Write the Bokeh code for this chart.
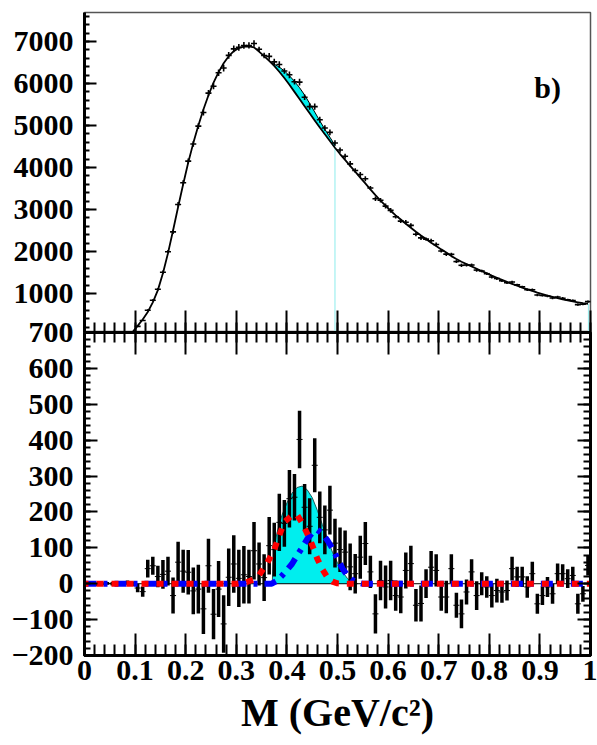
from bokeh.plotting import figure
from bokeh.layouts import column
from bokeh.models import (Range1d, FixedTicker, LinearAxis, Label,
                          CustomJSTickFormatter, ColumnDataSource)
from bokeh.embed import file_html
from bokeh.resources import INLINE

FONT = "Liberation Serif"

# ---------------- data ----------------
mass = [round(0.005 + 0.01 * i, 3) for i in range(100)]

resid = [0, 0, -2, 0, 1, 0, 0, 2, 3, 0,
         -12, -22, 42, 50, 20, 26, 35, -33, 60, 35,
         32, -20, -15, -70, 50, -85, -15, -112, 18, 55,
         15, 25, 20, 92, 55, 17, 106, 95, 171, 168,
         237, 241, 402, 213, 160, 330, 185, 150, 205, 113,
         95, 88, 47, 28, 74, 112, 33, -84, 9, -9,
         9, -33, -37, 37, 56, -60, -55, 0, 46, 37,
         -37, -37, 42, -60, -84, -23, 33, -33, 0, -9,
         -33, -19, -23, -19, 42, 19, 19, -9, 28, -56,
         -33, -9, -28, 28, 28, 14, 23, -56, -28, 51]

resid_err = [3, 3, 4, 4, 4, 5, 5, 5, 6, 6,
             12, 14, 25, 25, 30, 40, 40, 50, 57, 60,
             62, 65, 68, 70, 75, 70, 78, 80, 80, 80,
             80, 80, 75, 80, 60, 65, 80, 75, 80, 65,
             80, 65, 80, 65, 78, 75, 72, 68, 68, 68,
             62, 60, 65, 55, 60, 60, 45, 55, 55, 60,
             55, 42, 45, 50, 50, 45, 50, 40, 45, 45,
             38, 45, 40, 35, 40, 35, 35, 40, 32, 30,
             33, 33, 30, 28, 33, 28, 28, 30, 33, 28,
             26, 28, 28, 28, 26, 26, 24, 28, 22, 28]

top_mass = mass[10:]
top_err = resid_err[10:]
top_counts = [218, 358, 602, 840, 1100, 1506, 1995, 2467, 3120, 3635,
              4152, 4560, 4985, 5310, 5770, 5935, 6255, 6368, 6668, 6825,
              6860, 6905, 6905, 6952, 6815, 6667, 6646, 6515, 6451, 6298,
              6207, 6041, 6032, 5673, 5450, 5450, 5135, 4940, 4835, 4583,
              4415, 4268, 4087, 3928, 3834, 3732, 3513, 3256, 3219, 3081,
              2979, 2827, 2723, 2697, 2621, 2410, 2325, 2295, 2256, 2167,
              2013, 1938, 1932, 1760, 1671, 1677, 1678, 1557, 1535, 1471,
              1392, 1356, 1302, 1256, 1272, 1204, 1159, 1091, 1088, 964,
              952, 941, 892, 918, 888, 849, 833, 734, 742, 806]

bkg_x = [0.095] + top_mass
bkg_y = [80,
         230, 380, 560, 790, 1080, 1480, 1960, 2500, 3060, 3600,
         4120, 4580, 5000, 5380, 5720, 6020, 6270, 6480, 6650, 6770,
         6845, 6880, 6885, 6860, 6760, 6650, 6540, 6420, 6280, 6130,
         5970, 5800, 5630, 5460, 5290, 5120, 4950, 4790, 4630, 4470,
         4320, 4180, 4040, 3900, 3760, 3620, 3480, 3340, 3210, 3090,
         2970, 2860, 2760, 2660, 2565, 2470, 2380, 2295, 2210, 2130,
         2050, 1975, 1890, 1820, 1755, 1700, 1645, 1590, 1535, 1480,
         1425, 1375, 1325, 1275, 1230, 1185, 1140, 1100, 1060, 1020,
         985, 950, 920, 890, 860, 835, 810, 790, 770, 755]

sig_top_x = [0.365, 0.375, 0.385, 0.395, 0.405, 0.415, 0.425,
             0.435, 0.445, 0.455, 0.465, 0.475, 0.485, 0.495]
sig_top_total = [6540, 6460, 6390, 6300, 6185, 6050, 5900,
                 5725, 5525, 5320, 5110, 4910, 4720, 4530]

sig_x = [0.371, 0.373, 0.375, 0.38, 0.39, 0.40, 0.41, 0.42, 0.43, 0.44,
         0.45, 0.46, 0.47, 0.48, 0.49, 0.50, 0.51, 0.52, 0.53, 0.54]
sig_y = [0, 70, 90, 140, 190, 225, 252, 268, 272, 262,
         240, 205, 165, 125, 88, 58, 33, 14, 4, 0]

red_x = [0.0, 0.30, 0.32, 0.335, 0.345, 0.36, 0.375, 0.385, 0.395, 0.41, 0.42,
         0.43, 0.44, 0.45, 0.46, 0.47, 0.48, 0.49, 0.50, 0.51, 1.0]
red_y = [0, 0, 4, 12, 24, 55, 95, 135, 172, 190, 192,
         170, 140, 108, 70, 40, 18, 6, 1, 0, 0]

blue_x = [0.0, 0.37, 0.38, 0.39, 0.40, 0.41, 0.42, 0.43, 0.44, 0.45, 0.46,
          0.47, 0.48, 0.49, 0.50, 0.51, 0.52, 0.53, 0.54, 0.55, 1.0]
blue_y = [0, 0, 8, 22, 38, 55, 78, 100, 124, 142, 150,
          140, 121, 98, 70, 42, 22, 10, 3, 0, 0]

x_ticks = [0, 0.1, 0.2, 0.3, 0.4, 0.5, 0.6, 0.7, 0.8, 0.9, 1.0]
x_minor = [round(0.02 * i, 2) for i in range(51)]
top_ticks = [1000, 2000, 3000, 4000, 5000, 6000, 7000]
top_minor = list(range(200, 7800, 200))
bot_ticks = [-200, -100, 0, 100, 200, 300, 400, 500, 600, 700]
bot_minor = list(range(-200, 720, 20))

TOP_YMIN, TOP_YMAX = 71, 7690
BOT_YMIN, BOT_YMAX = -200, 700

CYAN = "#00eeee"
OVERLAP = 18

def style_axis(ax, size="30px"):
    ax.axis_line_width = 3
    ax.axis_line_color = "black"
    ax.major_tick_line_color = "black"
    ax.minor_tick_line_color = "black"
    ax.major_tick_line_width = 2
    ax.minor_tick_line_width = 2
    ax.major_tick_out = 0
    ax.minor_tick_out = 0
    ax.major_label_text_font = FONT
    ax.major_label_text_font_style = "bold"
    ax.major_label_text_font_size = size
    ax.major_label_text_color = "black"

blank = CustomJSTickFormatter(code="return '';")

# ---------------- top panel ----------------
top = figure(frame_width=506, frame_height=320, x_range=Range1d(0, 1),
             y_range=Range1d(TOP_YMIN, TOP_YMAX),
             x_axis_location=None, y_axis_location=None,
             output_backend="svg", toolbar_location=None,
             min_border_left=84, min_border_right=7,
             min_border_top=12, min_border_bottom=0)
top.xgrid.visible = False
top.ygrid.visible = False
top.outline_line_color = "#555555"
top.outline_line_width = 1.5

ly = LinearAxis(ticker=FixedTicker(ticks=top_ticks, minor_ticks=top_minor))
style_axis(ly)
ly.major_tick_in = 12
ly.minor_tick_in = 5
ly.major_label_standoff = 11
top.add_layout(ly, "left")

bx = LinearAxis(ticker=FixedTicker(ticks=x_ticks, minor_ticks=x_minor),
                formatter=blank)
style_axis(bx, "0px")
bx.major_tick_in = 22
bx.minor_tick_in = 10
bx.major_label_standoff = 0
top.add_layout(bx, "below")

bkg_lookup = dict(zip(bkg_x, bkg_y))
sig_top_bkg = [bkg_lookup[v] for v in sig_top_x]
top.varea(x=sig_top_x, y1=sig_top_bkg, y2=sig_top_total, fill_color=CYAN)
top.segment(x0=[sig_top_x[-1], 0.996], y0=[TOP_YMIN, TOP_YMIN],
            x1=[sig_top_x[-1], 0.996], y1=[sig_top_bkg[-1], bkg_y[-1]],
            line_color="#9fefef", line_width=1.2)
top.line(sig_top_x, sig_top_total, line_color="black", line_width=1)
top.line(bkg_x, bkg_y, line_color="black", line_width=1.8)

tsrc = ColumnDataSource(dict(
    x=top_mass, y=top_counts,
    lo=[c - e for c, e in zip(top_counts, top_err)],
    hi=[c + e for c, e in zip(top_counts, top_err)]))
top.segment(x0="x", y0="lo", x1="x", y1="hi", source=tsrc,
            line_color="black", line_width=1.6)
top.dash(x="x", y="y", source=tsrc, size=6, line_color="black", line_width=1.6)

top.add_layout(Label(x=0.889, y=5904, text="b)", text_font=FONT,
                     text_font_style="bold", text_font_size="30px",
                     text_color="black", text_baseline="alphabetic"))

# ---------------- bottom panel ----------------
bot = figure(frame_width=506, frame_height=323, x_range=Range1d(0, 1),
             y_range=Range1d(BOT_YMIN, BOT_YMAX),
             x_axis_location=None, y_axis_location=None,
             output_backend="svg", toolbar_location=None,
             min_border_left=84, min_border_right=7,
             min_border_top=OVERLAP, min_border_bottom=0,
             margin=(-OVERLAP, 0, 0, 0))
bot.xgrid.visible = False
bot.ygrid.visible = False
bot.border_fill_alpha = 0
bot.outline_line_color = "black"
bot.outline_line_width = 3

l2 = LinearAxis(ticker=FixedTicker(ticks=bot_ticks, minor_ticks=bot_minor))
style_axis(l2)
l2.major_tick_in = 13
l2.minor_tick_in = 6
l2.major_label_standoff = 11
bot.add_layout(l2, "left")

r2 = LinearAxis(ticker=FixedTicker(ticks=bot_ticks, minor_ticks=bot_minor),
                formatter=blank)
style_axis(r2, "0px")
r2.major_tick_in = 13
r2.minor_tick_in = 7
r2.major_label_standoff = 0
bot.add_layout(r2, "right")

a2 = LinearAxis(ticker=FixedTicker(ticks=x_ticks, minor_ticks=x_minor),
                formatter=blank)
style_axis(a2, "0px")
a2.major_tick_in = 22
a2.minor_tick_in = 10
a2.major_label_standoff = 0
bot.add_layout(a2, "above")

b2 = LinearAxis(ticker=FixedTicker(ticks=x_ticks, minor_ticks=x_minor),
                formatter=CustomJSTickFormatter(
                    code="return String(Math.round(tick*10)/10);"),
                axis_label="M (GeV/c\u00b2)")
style_axis(b2)
b2.major_tick_in = 22
b2.minor_tick_in = 11
b2.major_label_standoff = 5
b2.axis_label_standoff = 7
b2.axis_label_text_font = FONT
b2.axis_label_text_font_style = "bold"
b2.axis_label_text_font_size = "40px"
b2.axis_label_text_color = "black"
bot.add_layout(b2, "below")

bot.varea(x=sig_x, y1=[0] * len(sig_x), y2=sig_y, fill_color=CYAN)
bot.line(sig_x, sig_y, line_color="#1a5a5a", line_width=1)
bot.line([0, 1], [0, 0], line_color="black", line_width=1)

bsrc = ColumnDataSource(dict(
    x=mass, y=resid,
    lo=[r - e for r, e in zip(resid, resid_err)],
    hi=[r + e for r, e in zip(resid, resid_err)]))
bot.segment(x0="x", y0="lo", x1="x", y1="hi", source=bsrc,
            line_color="black", line_width=3.5)
bot.dash(x="x", y="y", source=bsrc, size=6, line_color="black", line_width=1)

bot.line(blue_x, blue_y, line_color="#0000ff", line_width=6,
         line_dash="12 7 4 7", line_dash_offset=0)
bot.line(red_x, red_y, line_color="#ff0000", line_width=6,
         line_dash="7 8", line_dash_offset=-12)

layout = column(top, bot, spacing=0)
open("out.html", "w").write(file_html(layout, INLINE))
